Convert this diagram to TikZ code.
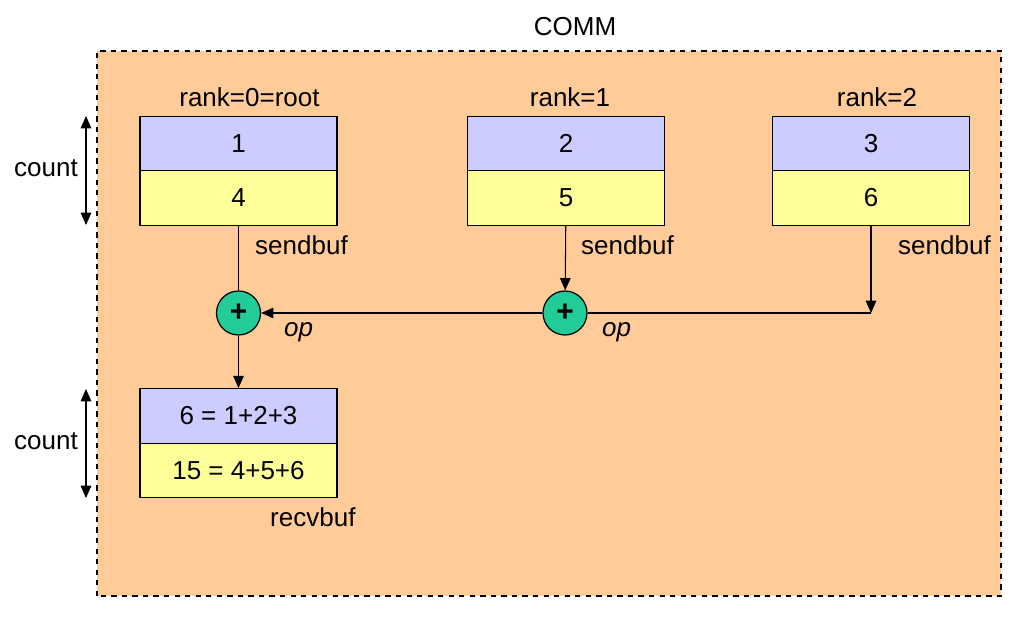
\documentclass[tikz,border=0pt]{standalone}
\usepackage{fontspec}
\setmainfont{Liberation Sans}
\usepackage{tikz}
\usetikzlibrary{arrows}
\usetikzlibrary{arrows.meta}
\usepackage{xcolor}
\definecolor{commfill}{HTML}{FFCC99}
\definecolor{cellblue}{HTML}{CCCCFF}
\definecolor{cellyellow}{HTML}{FFFF99}
\definecolor{opgreen}{HTML}{22CC99}

\begin{document}
\begin{tikzpicture}[
  every node/.style={font=\fontsize{14.8}{17}\selectfont},
  bluecell/.style={draw,line width=0.7pt,fill=cellblue,minimum width=3.94cm,minimum height=1.09cm,inner sep=0pt},
  yellowcell/.style={draw,line width=0.7pt,fill=cellyellow,minimum width=3.94cm,minimum height=1.09cm,inner sep=0pt},
  opnode/.style={circle,draw,line width=0.7pt,fill=opgreen,minimum size=0.88cm,inner sep=0pt,font=\fontsize{17}{17}\selectfont\bfseries},
  conn/.style={line width=0.6pt}
]
\useasboundingbox (0,0) rectangle (20.4,12.32);

\draw [dashed,line width=0.6pt,fill=commfill] (1.94,0.4) rectangle (20.02,11.3);
\node (comm) at (11.5,11.78) {COMM};

\node (a1) at (4.77,9.45) [bluecell] {1};
\node (b1) at (4.77,8.36) [yellowcell] {4};
\node (a2) at (11.32,9.45) [bluecell] {2};
\node (b2) at (11.32,8.36) [yellowcell] {5};
\node (a3) at (17.42,9.45) [bluecell] {3};
\node (b3) at (17.42,8.36) [yellowcell] {6};
\node (ra) at (4.77,4.0) [bluecell] {6 = 1+2+3};
\node (rb) at (4.77,2.91) [yellowcell] {15 = 4+5+6};

\node (p1) at (4.77,6.06) [opnode] {+};
\node (p2) at (11.30,6.06) [opnode] {+};
\coordinate (c3) at (17.42,6.06);

\node at (4.99,10.38) {rank=0=root};
\node at (11.4,10.38) {rank=1};
\node at (17.54,10.38) {rank=2};
\node [anchor=west] at (4.98,7.42) {sendbuf};
\node [anchor=west] at (11.5,7.42) {sendbuf};
\node [anchor=west] at (17.84,7.42) {sendbuf};
\node [anchor=west] at (5.56,5.68) {\itshape op};
\node [anchor=west] at (11.92,5.68) {\itshape op};
\node [anchor=west] at (5.28,1.98) {recvbuf};

\coordinate (ct1) at (1.72,10.0);
\coordinate (cb1) at (1.72,7.82);
\coordinate (ct2) at (1.72,4.54);
\coordinate (cb2) at (1.72,2.36);
\node at (0.92,8.96) {count};
\node at (0.92,3.5) {count};
\draw [conn,{Triangle[length=7pt,width=6pt]}-{Triangle[length=7pt,width=6pt]}] (ct1) -- (cb1);
\draw [conn,{Triangle[length=7pt,width=6pt]}-{Triangle[length=7pt,width=6pt]}] (ct2) -- (cb2);

\draw [conn] (b1) -- (p1);
\draw [conn,-{Triangle[length=7pt,width=6pt]}] (b2) -- (p2);
\draw [conn,-{Triangle[length=7pt,width=6pt]}] (b3) -- (c3);
\draw [conn] (c3) -- (p2);
\draw [conn,-{Triangle[length=7pt,width=6pt]}] (p2) -- (p1);
\draw [conn,-{Triangle[length=7pt,width=6pt]}] (p1) -- (ra);
\end{tikzpicture}
\end{document}
